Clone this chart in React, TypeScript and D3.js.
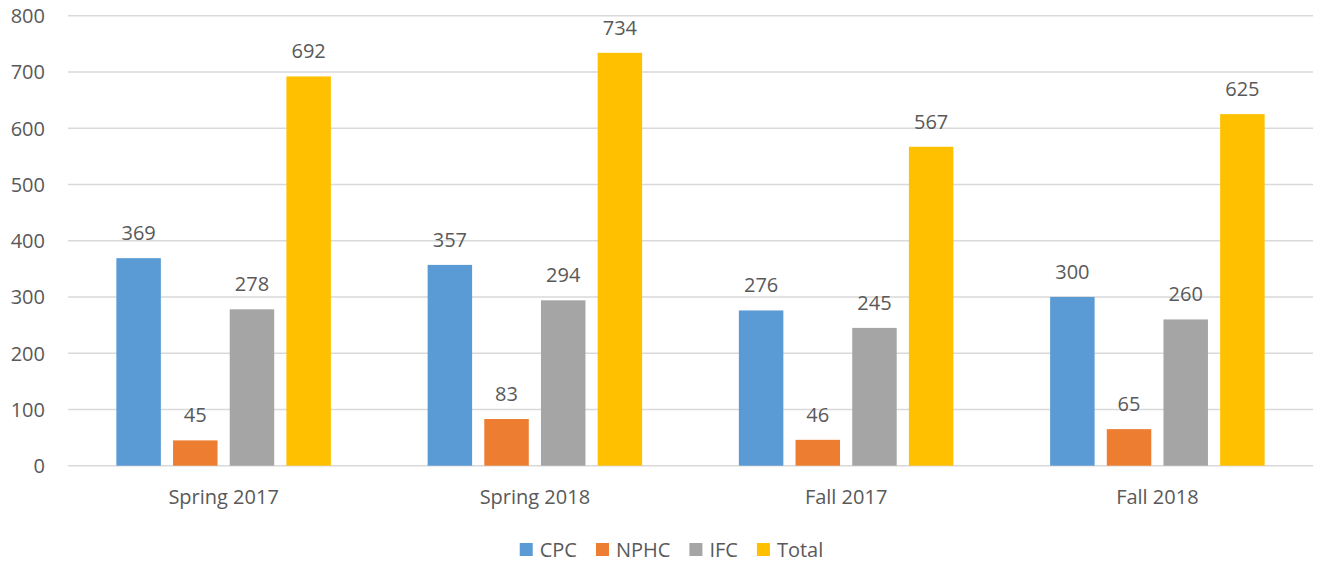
import { useEffect, useRef } from "react";
import * as d3 from "d3";

const categories = ["Spring 2017", "Spring 2018", "Fall 2017", "Fall 2018"];
const seriesNames = ["CPC", "NPHC", "IFC", "Total"];
const cpc = [369, 357, 276, 300];
const nphc = [45, 83, 46, 65];
const ifc = [278, 294, 245, 260];
const total = [692, 734, 567, 625];
const yTicks = [0, 100, 200, 300, 400, 500, 600, 700, 800];

const colors = ["#5B9BD5", "#ED7D31", "#A5A5A5", "#FFC000"];
const W = 1317;
const H = 562;
const FONT = "'Open Sans', sans-serif";
const TEXT = "#595959";

export default function App() {
  const svgRef = useRef<SVGSVGElement>(null);

  useEffect(() => {
    if (!svgRef.current) return;
    const svg = d3.select(svgRef.current);
    svg.selectAll("*").remove();

    const values = [cpc, nphc, ifc, total];
    const margin = { top: 15.7, right: 4, bottom: 96.3, left: 68 };

    const x0 = d3.scaleBand().domain(categories).range([margin.left, W - margin.right]);
    const x1 = d3.scaleBand().domain(seriesNames).range([0, 226.7]).paddingInner(0.215).paddingOuter(0.1075);
    const y = d3.scaleLinear().domain([0, 800]).range([H - margin.bottom, margin.top]);

    // gridlines
    svg.append("g")
      .selectAll("line")
      .data(yTicks)
      .join("line")
      .attr("x1", margin.left)
      .attr("x2", W - margin.right)
      .attr("y1", d => y(d))
      .attr("y2", d => y(d))
      .attr("stroke", "#D9D9D9")
      .attr("stroke-width", 1.4);

    // y labels
    svg.append("g")
      .selectAll("text")
      .data(yTicks)
      .join("text")
      .attr("x", 45)
      .attr("y", d => y(d) + 7.5)
      .attr("text-anchor", "end")
      .attr("font-family", FONT)
      .attr("font-size", 20)
      .attr("fill", TEXT)
      .text(d => d);

    // bars
    categories.forEach((cat, ci) => {
      const gx = x0(cat)! + (x0.bandwidth() - 226.7) / 2;
      const g = svg.append("g").attr("transform", `translate(${gx},0)`);
      seriesNames.forEach((s, si) => {
        const v = values[si][ci];
        g.append("rect")
          .attr("x", x1(s)!)
          .attr("y", y(v))
          .attr("width", x1.bandwidth())
          .attr("height", y(0) - y(v))
          .attr("fill", colors[si]);
        g.append("text")
          .attr("x", x1(s)! + x1.bandwidth() / 2)
          .attr("y", y(v) - 18)
          .attr("text-anchor", "middle")
          .attr("font-family", FONT)
          .attr("font-size", 20)
          .attr("fill", TEXT)
          .text(v);
      });
      svg.append("text")
        .attr("x", x0(cat)! + x0.bandwidth() / 2)
        .attr("y", 504)
        .attr("text-anchor", "middle")
        .attr("font-family", FONT)
        .attr("font-size", 20)
        .attr("fill", TEXT)
        .text(cat);
    });

    // legend
    const legend = svg.append("g");
    let cx = 0;
    seriesNames.forEach((s, si) => {
      const item = legend.append("g").attr("transform", `translate(${cx},0)`);
      item.append("rect").attr("x", 0).attr("y", 543).attr("width", 13).attr("height", 13).attr("fill", colors[si]);
      const t = item.append("text")
        .attr("x", 20)
        .attr("y", 557)
        .attr("font-family", FONT)
        .attr("font-size", 20)
        .attr("fill", TEXT)
        .text(s);
      const tw = (t.node() as SVGTextElement).getComputedTextLength();
      cx += 20 + tw + 19;
    });
    const legendW = cx - 19;
    legend.attr("transform", `translate(${671.5 - legendW / 2},0)`);
  }, []);

  return (
    <svg
      ref={svgRef}
      width={W}
      height={H}
      style={{ position: "absolute", left: 0, top: 0, background: "#fff" }}
    />
  );
}
